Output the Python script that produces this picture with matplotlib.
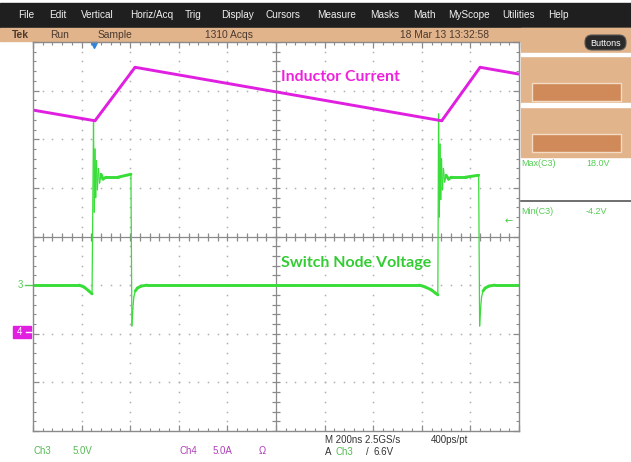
import matplotlib
matplotlib.use('Agg')
import matplotlib.pyplot as plt
import numpy as np
from matplotlib import font_manager
from matplotlib.collections import LineCollection
from matplotlib.patches import Rectangle, FancyBboxPatch

# ---- waveform values ----
# Ch4: inductor current, A   vs time, ns (0 = screen centre)
time_i = [-1000, -745, -580, 682, 840, 1000]
inductor_a = [23.0, 21.9, 27.4, 21.9, 27.4, 26.7]

# Ch3: switch node voltage, V
time_sw = [-1000, -810, -790, -770, -757, -751, -748, -745, -742, -739, -735,
           -731, -726, -720, -712, -700, -650, -597, -593, -589, -585, -579,
           -570, -555, -530,
           590, 615, 640, 655, 666, 669, 672, 675, 678, 681, 685, 689, 694,
           700, 710, 722, 780, 834, 838, 842, 846, 852, 861, 876, 900, 1000]
switch_v = [0.0, 0.0, -0.2, -0.6, -0.9, 16.7, 7.5, 14.0, 9.0, 12.8, 9.8,
            12.0, 10.5, 11.4, 10.9, 11.1, 11.1, 11.4, -4.2, -2.4, -1.2, -0.6,
            -0.3, -0.1, 0.0,
            0.0, -0.2, -0.5, -0.8, -1.0, 17.6, 7.0, 14.5, 8.8, 13.0, 9.8, 12.0,
            10.6, 11.3, 10.9, 11.1, 11.1, 11.3, -4.2, -2.4, -1.2, -0.6, -0.3,
            -0.1, 0.0, 0.0]

ns_per_div = 200
ch3_v_per_div, ch3_offset = 5.0, -1
ch4_a_per_div, ch4_offset = 5.0, -2
trig_time, trig_level = -750, 6.6

menu_items = ['File', 'Edit', 'Vertical', 'Horiz/Acq', 'Trig', 'Display',
              'Cursors', 'Measure', 'Masks', 'Math', 'MyScope', 'Utilities', 'Help']
menu_x = [18, 49, 81, 130, 185, 221, 265, 317, 370, 413, 448, 502, 548]

MAGENTA = '#e01fe0'
GREEN = '#38dd38'
TAN = '#e2b48c'

names = {f.name for f in font_manager.fontManager.ttflist}
UI = 'Liberation Sans Narrow' if 'Liberation Sans Narrow' in names else 'Liberation Sans'
LABEL = 'Lato' if 'Lato' in names else 'DejaVu Sans'

fig = plt.figure(figsize=(6.31, 4.62), dpi=100)
fig.patch.set_facecolor('white')

# ---- screen chrome, in pixel coordinates ----
bg = fig.add_axes([0, 0, 1, 1])
bg.set_xlim(0, 631)
bg.set_ylim(462, 0)
bg.axis('off')

bg.add_patch(Rectangle((0, 3), 631, 25, color='#1f1f1f'))
for name, x in zip(menu_items, menu_x):
    bg.text(x, 15.5, name, color='#f0f0f0', fontsize=7.2, family=UI,
            va='center', ha='left')

bg.add_patch(Rectangle((0, 28), 631, 13, color=TAN))
for txt, x, w in [('Tek', 12, 'bold'), ('Run', 50, 'normal'),
                  ('Sample', 98, 'normal'), ('1310 Acqs', 205, 'normal'),
                  ('18 Mar 13 13:32:58', 400, 'normal')]:
    bg.text(x, 34.5, txt, color='#4a3a30', fontsize=7.4, family=UI,
            va='center', ha='left', weight=w)

# right panel
bg.add_patch(Rectangle((521, 28), 110, 129, color=TAN))
bg.add_patch(Rectangle((521, 53), 110, 3, color='white'))
bg.add_patch(Rectangle((521, 103), 110, 4, color='white'))
for y in (83, 134):
    bg.add_patch(Rectangle((532, y), 89, 18, fc='#d08a5a', ec='#f4dcc4', lw=1))
bg.add_patch(FancyBboxPatch((585, 35), 41, 15,
                            boxstyle='round,pad=0,rounding_size=7',
                            fc='#2a2a2a', ec='#555555', lw=0.8))
bg.text(605.5, 43, 'Buttons', color='white', fontsize=6.5, family=UI,
        ha='center', va='center')

bg.text(521, 164, 'Max(C3)', color='#55cc55', fontsize=6.5, family=UI, va='center')
bg.text(586, 164, '18.0V', color='#55cc55', fontsize=6.5, family=UI, va='center')
bg.plot([521, 631], [201, 201], color='#555555', lw=1.2)
bg.text(521, 211, 'Min(C3)', color='#55cc55', fontsize=6.5, family=UI, va='center')
bg.text(586, 211, '-4.2V', color='#55cc55', fontsize=6.5, family=UI, va='center')

# bottom readouts
bg.text(33, 451.5, 'Ch3', color='#55bb55', fontsize=7, family=UI, va='center')
bg.text(73, 451.5, '5.0V', color='#55bb55', fontsize=7, family=UI, va='center')
bg.text(179, 451.5, 'Ch4', color='#b040b8', fontsize=7, family=UI, va='center')
bg.text(213, 451.5, '5.0A', color='#b040b8', fontsize=7, family=UI, va='center')
bg.text(259, 451.5, 'Ω', color='#b040b8', fontsize=7, family=UI, va='center')
bg.text(325, 440, 'M 200ns 2.5GS/s', color='#333333', fontsize=7, family=UI, va='center')
bg.text(431, 440, '400ps/pt', color='#333333', fontsize=7, family=UI, va='center')
bg.text(325, 452, 'A', color='#333333', fontsize=7, family=UI, va='center')
bg.text(336, 452, 'Ch3', color='#55bb55', fontsize=7, family=UI, va='center')
bg.text(366, 452, '/', color='#333333', fontsize=7, family=UI, va='center')
bg.text(374, 452, '6.6V', color='#333333', fontsize=7, family=UI, va='center')

# channel ground markers
bg.text(20, 284.5, '3', color='#55cc55', fontsize=7, family=UI, va='center', ha='center')
bg.plot([25, 32], [284.5, 284.5], color='#55cc55', lw=1)
bg.add_patch(Rectangle((13, 326), 18, 12, color=MAGENTA))
bg.text(19.5, 332, '4', color='white', fontsize=7, family=UI, va='center', ha='center')
bg.plot([26, 32], [332, 332], color='white', lw=1)

# ---- graticule, in divisions ----
ax = fig.add_axes([33 / 631, 31 / 462, 486 / 631, 389 / 462])
ax.set_facecolor('none')
ax.set_xlim(-5, 5)
ax.set_ylim(-4, 4)
for s in ax.spines.values():
    s.set_color('#8a8a8a')
    s.set_linewidth(1)
ax.set_xticks(np.arange(-5, 6, 1))
ax.set_yticks(np.arange(-4, 5, 1))
ax.set_xticks(np.arange(-5, 5.01, 0.2), minor=True)
ax.set_yticks(np.arange(-4, 4.01, 0.2), minor=True)
ax.tick_params(which='both', direction='in', top=True, right=True,
               labelbottom=False, labelleft=False, color='#8a8a8a')
ax.tick_params(which='major', length=4.5, width=0.9)
ax.tick_params(which='minor', length=2.2, width=0.8)

sub_x = np.arange(-5, 5.01, 0.2)
sub_y = np.arange(-4, 4.01, 0.2)
for gx in range(-4, 5):
    if gx != 0:
        ax.plot(np.full_like(sub_y, gx), sub_y, ls='none', marker='s', ms=1.1,
                mec='none', mfc='#b0b0b0')
for gy in range(-3, 4):
    if gy != 0:
        ax.plot(sub_x, np.full_like(sub_x, gy), ls='none', marker='s', ms=1.1,
                mec='none', mfc='#b0b0b0')
ax.axhline(0, color='#8a8a8a', lw=0.9)
ax.axvline(0, color='#8a8a8a', lw=0.9)
ax.plot(sub_x, np.zeros_like(sub_x), ls='none', marker='|', ms=5.5,
        mew=0.9, color='#8a8a8a')
ax.plot(np.zeros_like(sub_y), sub_y, ls='none', marker='_', ms=5.5,
        mew=0.9, color='#8a8a8a')


def draw_trace(t, vals, per_div, offset, color):
    x = np.asarray(t, float) / ns_per_div
    y = np.asarray(vals, float) / per_div + offset
    pts = np.column_stack([x, y])
    segs = np.stack([pts[:-1], pts[1:]], axis=1)
    steep = np.abs(np.diff(y)) > 3 * np.abs(np.diff(x))
    lc = LineCollection(segs, colors=color,
                        linewidths=np.where(steep, 0.9, 2.1),
                        capstyle='round', joinstyle='round')
    ax.add_collection(lc)


draw_trace(time_sw, switch_v, ch3_v_per_div, ch3_offset, GREEN)
draw_trace(time_i, inductor_a, ch4_a_per_div, ch4_offset, MAGENTA)

# trigger markers
ax.plot([trig_time / ns_per_div], [3.93], marker='v', ms=5, color='#2f86d8',
        clip_on=False)
ax.text(4.78, trig_level / ch3_v_per_div + ch3_offset, '←', color='#44cc44',
        fontsize=7, ha='center', va='center')

ax.text(0.1, 3.28, 'Inductor Current', color='#ee22dd', fontsize=11.4,
        family=LABEL, weight='bold', va='center', ha='left')
ax.text(0.1, -0.545, 'Switch Node Voltage', color='#33cc33', fontsize=11.5,
        family=LABEL, weight='bold', va='center', ha='left')

fig.savefig('out.png', dpi=100)
